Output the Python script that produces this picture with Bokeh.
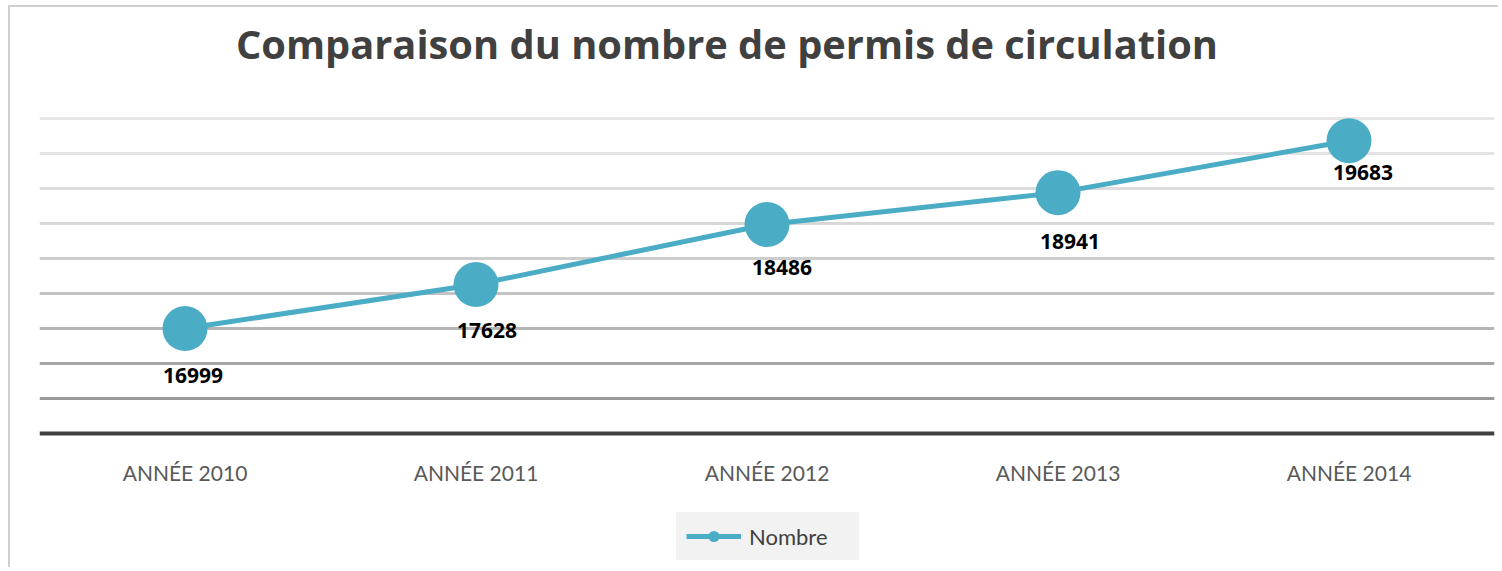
from bokeh.plotting import figure
from bokeh.models import FactorRange, Range1d, Legend, LegendItem, ColumnDataSource, LabelSet, Label
from bokeh.core.properties import value
from bokeh.embed import file_html
from bokeh.resources import INLINE

# ---- data ----
categories = ["ANNÉE 2010", "ANNÉE 2011", "ANNÉE 2012", "ANNÉE 2013", "ANNÉE 2014"]
values = [16999, 17628, 18486, 18941, 19683]
grid_values = [16000, 16500, 17000, 17500, 18000, 18500, 19000, 19500, 20000]
axis_base = 15500
title_text = "Comparaison du nombre de permis de circulation"
series_name = "Nombre"

# ---- styles / layout ----
grid_colors = ["#9a9a9a", "#a6a6a6", "#b5b5b5", "#c3c3c3", "#cdcdcd",
               "#d7d7d7", "#dcdcdc", "#e3e3e3", "#e6e6e6"]
label_dx = [8, 11, 15, 12, 14]
label_dy = [-47, -46, -43, -49, -32]
accent = "#4bacc6"

W, H = 1490, 562
px_per_unit = 0.07
axis_px_from_top = 426      # pixel row of the axis base in the canvas
top_px = 111                # pixel row of the top grid line
y_start = axis_base - (H - axis_px_from_top) / px_per_unit
y_end = grid_values[-1] + top_px / px_per_unit

src = ColumnDataSource(dict(
    x=categories, y=values, txt=[str(v) for v in values],
    dx=label_dx, dy=label_dy))
cat_src = ColumnDataSource(dict(x=categories, y=[axis_base] * len(categories)))

p = figure(x_range=FactorRange(*categories), y_range=Range1d(y_start, y_end),
           width=W, height=H, output_backend="svg", toolbar_location=None,
           x_axis_location=None, y_axis_location=None, title=None,
           min_border_left=29, min_border_right=6, min_border_top=0, min_border_bottom=0)
p.styles = {"border-left": "2px solid #cfcfcf", "border-top": "2px solid #cfcfcf",
            "margin-left": "8px", "margin-top": "5px"}
p.outline_line_color = None
p.xgrid.visible = False
p.ygrid.visible = False
p.background_fill_color = "white"
p.border_fill_color = "white"

p.hspan(y=grid_values, line_color=grid_colors, line_width=3)
p.hspan(y=[axis_base], line_color="#404040", line_width=4)

line_r = p.line("x", "y", source=src, line_color=accent, line_width=5)
dot_r = p.scatter("x", "y", source=src, size=45, fill_color=accent, line_color=None)

labels = LabelSet(x="x", y="y", text="txt", source=src, x_offset="dx", y_offset="dy",
                  text_align="center", text_baseline="middle", text_font=value("Open Sans"),
                  text_font_style="bold", text_font_size="21px", text_color="black")
p.add_layout(labels)

cat_labels = LabelSet(x="x", y="y", text="x", source=cat_src, y_offset=-39,
                      text_align="center", text_baseline="middle", text_font=value("Lato"),
                      text_font_size="21px", text_color="#595959")
p.add_layout(cat_labels)

title = Label(x=len(categories) / 2, y=grid_values[-1], x_offset=-40, y_offset=75,
              text=title_text, text_align="center", text_baseline="alphabetic",
              text_font="Open Sans", text_font_style="bold", text_font_size="39.8px",
              text_color="#404040")
p.add_layout(title)

legend = Legend(items=[LegendItem(label=series_name, renderers=[line_r, dot_r])],
                location=(637, 9), orientation="horizontal",
                background_fill_color="#f2f2f2", background_fill_alpha=1.0,
                border_line_color="#f2f2f2", border_line_width=1,
                label_text_font="Lato",
                label_text_font_size="22px", label_text_color="#404040",
                glyph_width=55, glyph_height=28, padding=9, label_width=100,
                label_standoff=8, margin=0)
p.add_layout(legend, "center")

open("out.html", "w").write(file_html(p, INLINE))
